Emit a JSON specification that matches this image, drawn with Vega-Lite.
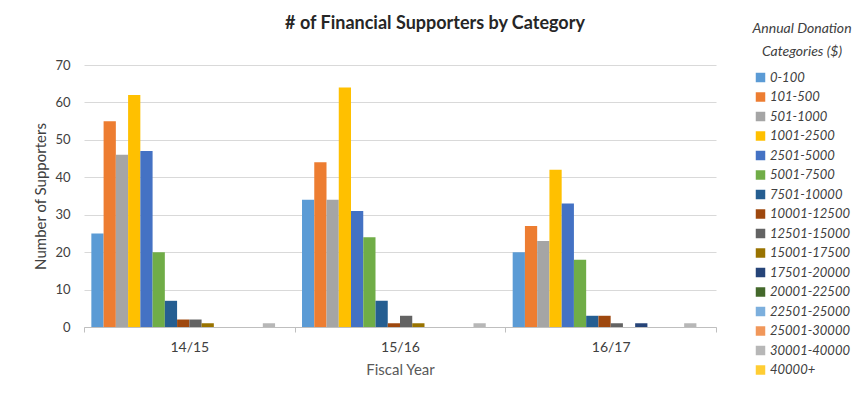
{
  "$schema": "https://vega.github.io/schema/vega-lite/v6.json",
  "autosize": "none",
  "width": 632,
  "height": 262,
  "padding": {"left": 84, "top": 65, "right": 138, "bottom": 71},
  "background": "white",
  "title": {
    "text": "# of Financial Supporters by Category",
    "font": "Lato",
    "fontSize": 18,
    "fontWeight": "bold",
    "color": "#262626",
    "anchor": "middle",
    "frame": "group",
    "dx": 35,
    "offset": -11
  },
  "config": {
    "font": "Lato",
    "view": {"stroke": null}
  },
  "data": {
    "values": [
      {"year": "14/15", "category": "0-100", "supporters": 25},
      {"year": "14/15", "category": "101-500", "supporters": 55},
      {"year": "14/15", "category": "501-1000", "supporters": 46},
      {"year": "14/15", "category": "1001-2500", "supporters": 62},
      {"year": "14/15", "category": "2501-5000", "supporters": 47},
      {"year": "14/15", "category": "5001-7500", "supporters": 20},
      {"year": "14/15", "category": "7501-10000", "supporters": 7},
      {"year": "14/15", "category": "10001-12500", "supporters": 2},
      {"year": "14/15", "category": "12501-15000", "supporters": 2},
      {"year": "14/15", "category": "15001-17500", "supporters": 1},
      {"year": "14/15", "category": "17501-20000", "supporters": 0},
      {"year": "14/15", "category": "20001-22500", "supporters": 0},
      {"year": "14/15", "category": "22501-25000", "supporters": 0},
      {"year": "14/15", "category": "25001-30000", "supporters": 0},
      {"year": "14/15", "category": "30001-40000", "supporters": 1},
      {"year": "14/15", "category": "40000+", "supporters": 0},
      {"year": "15/16", "category": "0-100", "supporters": 34},
      {"year": "15/16", "category": "101-500", "supporters": 44},
      {"year": "15/16", "category": "501-1000", "supporters": 34},
      {"year": "15/16", "category": "1001-2500", "supporters": 64},
      {"year": "15/16", "category": "2501-5000", "supporters": 31},
      {"year": "15/16", "category": "5001-7500", "supporters": 24},
      {"year": "15/16", "category": "7501-10000", "supporters": 7},
      {"year": "15/16", "category": "10001-12500", "supporters": 1},
      {"year": "15/16", "category": "12501-15000", "supporters": 3},
      {"year": "15/16", "category": "15001-17500", "supporters": 1},
      {"year": "15/16", "category": "17501-20000", "supporters": 0},
      {"year": "15/16", "category": "20001-22500", "supporters": 0},
      {"year": "15/16", "category": "22501-25000", "supporters": 0},
      {"year": "15/16", "category": "25001-30000", "supporters": 0},
      {"year": "15/16", "category": "30001-40000", "supporters": 1},
      {"year": "15/16", "category": "40000+", "supporters": 0},
      {"year": "16/17", "category": "0-100", "supporters": 20},
      {"year": "16/17", "category": "101-500", "supporters": 27},
      {"year": "16/17", "category": "501-1000", "supporters": 23},
      {"year": "16/17", "category": "1001-2500", "supporters": 42},
      {"year": "16/17", "category": "2501-5000", "supporters": 33},
      {"year": "16/17", "category": "5001-7500", "supporters": 18},
      {"year": "16/17", "category": "7501-10000", "supporters": 3},
      {"year": "16/17", "category": "10001-12500", "supporters": 3},
      {"year": "16/17", "category": "12501-15000", "supporters": 1},
      {"year": "16/17", "category": "15001-17500", "supporters": 0},
      {"year": "16/17", "category": "17501-20000", "supporters": 1},
      {"year": "16/17", "category": "20001-22500", "supporters": 0},
      {"year": "16/17", "category": "22501-25000", "supporters": 0},
      {"year": "16/17", "category": "25001-30000", "supporters": 0},
      {"year": "16/17", "category": "30001-40000", "supporters": 1},
      {"year": "16/17", "category": "40000+", "supporters": 0}
    ]
  },
  "mark": {"type": "bar"},
  "encoding": {
    "x": {
      "field": "year",
      "type": "nominal",
      "scale": {"paddingInner": 0, "paddingOuter": 0},
      "axis": {
        "title": "Fiscal Year",
        "labelAngle": 0,
        "labelFontSize": 14,
        "labelColor": "#404040",
        "titleFontSize": 15,
        "titleFontWeight": "normal",
        "titleColor": "#595959",
        "titlePadding": 8,
        "domainColor": "#bfbfbf",
        "tickColor": "#bfbfbf",
        "tickBand": "extent",
        "tickSize": 5,
        "labelPadding": 8,
        "grid": false
      }
    },
    "xOffset": {
      "field": "category",
      "type": "nominal",
      "sort": ["0-100", "101-500", "501-1000", "1001-2500", "2501-5000", "5001-7500", "7501-10000", "10001-12500", "12501-15000", "15001-17500", "17501-20000", "20001-22500", "22501-25000", "25001-30000", "30001-40000", "40000+"],
      "scale": {"paddingInner": 0, "paddingOuter": 0.6}
    },
    "y": {
      "field": "supporters",
      "type": "quantitative",
      "scale": {"domain": [0, 70]},
      "axis": {
        "title": "Number of Supporters",
        "values": [0, 10, 20, 30, 40, 50, 60, 70],
        "labelFontSize": 13,
        "labelColor": "#404040",
        "labelPadding": 14,
        "titleFontSize": 15,
        "titleFontWeight": "normal",
        "titleColor": "#404040",
        "titlePadding": 6,
        "domain": false,
        "ticks": false,
        "gridColor": "#d9d9d9"
      }
    },
    "color": {
      "field": "category",
      "type": "nominal",
      "sort": ["0-100", "101-500", "501-1000", "1001-2500", "2501-5000", "5001-7500", "7501-10000", "10001-12500", "12501-15000", "15001-17500", "17501-20000", "20001-22500", "22501-25000", "25001-30000", "30001-40000", "40000+"],
      "scale": {
        "domain": ["0-100", "101-500", "501-1000", "1001-2500", "2501-5000", "5001-7500", "7501-10000", "10001-12500", "12501-15000", "15001-17500", "17501-20000", "20001-22500", "22501-25000", "25001-30000", "30001-40000", "40000+"],
        "range": ["#5B9BD5", "#ED7D31", "#A5A5A5", "#FFC000", "#4472C4", "#70AD47", "#255E91", "#9E480E", "#636363", "#997300", "#264478", "#43682B", "#7CAFDD", "#F1975A", "#B7B7B7", "#FFCD33"]
      },
      "legend": {
        "title": ["Annual Donation", "Categories ($)"],
        "orient": "none",
        "legendX": 668,
        "legendY": -43,
        "titleFont": "Lato",
        "titleFontSize": 14,
        "titleFontStyle": "italic",
        "titleFontWeight": "normal",
        "titleColor": "#404040",
        "titleLineHeight": 23,
        "titleAnchor": "middle",
        "titleAlign": "center",
        "titlePadding": 12,
        "labelFontSize": 13,
        "labelFontStyle": "italic",
        "labelColor": "#404040",
        "symbolType": "square",
        "symbolSize": 90,
        "symbolStrokeWidth": 0,
        "rowPadding": 5.5,
        "labelOffset": 3
      }
    }
  }
}
